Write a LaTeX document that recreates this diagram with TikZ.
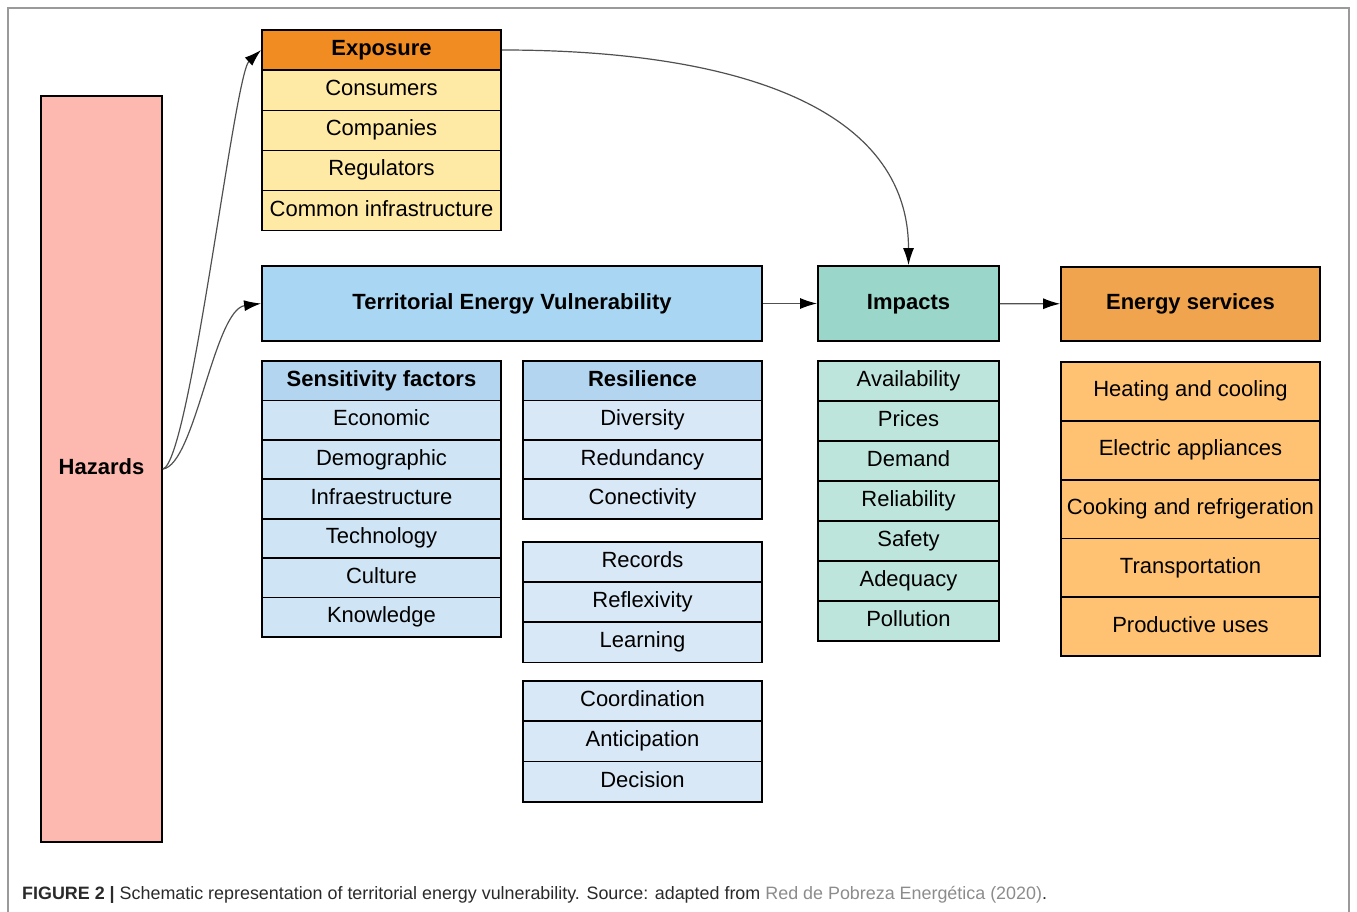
\documentclass[tikz,border=0pt]{standalone}
\usepackage{fontspec}
\setmainfont{Liberation Sans}
\usetikzlibrary{arrows.meta}
\definecolor{hazardfill}{HTML}{FDB8B0}
\definecolor{expohead}{HTML}{F08C22}
\definecolor{exporow}{HTML}{FFEAA5}
\definecolor{tevfill}{HTML}{A9D7F3}
\definecolor{senshead}{HTML}{B3D5EF}
\definecolor{sensrow}{HTML}{CFE4F4}
\definecolor{resrow}{HTML}{D9E8F6}
\definecolor{impfill}{HTML}{9AD6CA}
\definecolor{improw}{HTML}{BDE5DC}
\definecolor{servhead}{HTML}{F0A44D}
\definecolor{servrow}{HTML}{FEC272}
\definecolor{linkgray}{HTML}{505050}
\definecolor{framegray}{HTML}{9A9A9A}
\definecolor{refgray}{HTML}{8C8C8C}
\definecolor{captext}{HTML}{2A2A2A}

\begin{document}
\begin{tikzpicture}[x=1pt,y=-1pt,
		box/.style={draw, line width=1.8pt, inner sep=0pt, text height=16pt, text depth=5pt,
			font=\fontsize{22}{26}\selectfont},
		head/.style={box, font=\fontsize{22}{26}\selectfont\bfseries},
		expocell/.style={minimum width=239pt, minimum height=40pt},
		senscell/.style={minimum width=239pt, minimum height=39.4pt},
		rescell/.style={minimum width=239pt, minimum height=40.2pt},
		impcell/.style={minimum width=181pt, minimum height=40pt},
		servcell/.style={minimum width=259pt, minimum height=58.8pt},
		link/.style={draw=linkgray, line width=1.2pt, -{Latex[length=17pt,width=11pt,color=black]}}]
		\useasboundingbox (0,0) rectangle (1357,912);
		\draw[framegray, line width=1.2pt] (8,912) -- (8,8) -- (1349,8) -- (1349,912);

		\node[head, fill=hazardfill, minimum width=121pt, minimum height=746pt] at (101.5,469)(hazards){Hazards};

		\node[head, expocell, fill=expohead] at (381.5,50)(expo){Exposure};
		\node[box, expocell, fill=exporow] at (381.5,90.5)(consumers){Consumers};
		\node[box, expocell, fill=exporow] at (381.5,130.5)(companies){Companies};
		\node[box, expocell, fill=exporow] at (381.5,170.5)(regulators){Regulators};
		\node[box, expocell, fill=exporow] at (381.5,210.5)(common){Common infrastructure};

		\node[head, fill=tevfill, minimum width=500pt, minimum height=75pt] at (512,303.5)(tev){Territorial Energy Vulnerability};
		\node[head, fill=impfill, minimum width=181pt, minimum height=75pt] at (908.5,303.5)(impacts){Impacts};
		\node[head, fill=servhead, minimum width=259pt, minimum height=74pt] at (1190.5,304)(services){Energy services};

		\node[head, senscell, fill=senshead] at (381.5,380.7)(sens){Sensitivity factors};
		\node[box, senscell, fill=sensrow] at (381.5,420.1)(economic){Economic};
		\node[box, senscell, fill=sensrow] at (381.5,459.5)(demographic){Demographic};
		\node[box, senscell, fill=sensrow] at (381.5,498.9)(infra){Infraestructure};
		\node[box, senscell, fill=sensrow] at (381.5,538.3)(technology){Technology};
		\node[box, senscell, fill=sensrow] at (381.5,577.7)(culture){Culture};
		\node[box, senscell, fill=sensrow] at (381.5,617.1)(knowledge){Knowledge};

		\node[head, senscell, fill=senshead] at (642.5,380.7)(res){Resilience};
		\node[box, senscell, fill=resrow] at (642.5,420.1)(diversity){Diversity};
		\node[box, senscell, fill=resrow] at (642.5,459.5)(redundancy){Redundancy};
		\node[box, senscell, fill=resrow] at (642.5,498.9)(conectivity){Conectivity};

		\node[box, rescell, fill=resrow] at (642.5,562)(records){Records};
		\node[box, rescell, fill=resrow] at (642.5,602.2)(reflexivity){Reflexivity};
		\node[box, rescell, fill=resrow] at (642.5,642.4)(learning){Learning};

		\node[box, rescell, fill=resrow] at (642.5,701.2)(coordination){Coordination};
		\node[box, rescell, fill=resrow] at (642.5,741.4)(anticipation){Anticipation};
		\node[box, rescell, fill=resrow] at (642.5,781.6)(decision){Decision};

		\node[box, impcell, fill=improw] at (908.5,381)(availability){Availability};
		\node[box, impcell, fill=improw] at (908.5,421)(prices){Prices};
		\node[box, impcell, fill=improw] at (908.5,461)(demand){Demand};
		\node[box, impcell, fill=improw] at (908.5,501)(reliability){Reliability};
		\node[box, impcell, fill=improw] at (908.5,541)(safety){Safety};
		\node[box, impcell, fill=improw] at (908.5,581)(adequacy){Adequacy};
		\node[box, impcell, fill=improw] at (908.5,621)(pollution){Pollution};

		\node[box, servcell, fill=servrow] at (1190.5,391.4)(heating){Heating and cooling};
		\node[box, servcell, fill=servrow] at (1190.5,450.2)(electric){Electric appliances};
		\node[box, servcell, fill=servrow] at (1190.5,509)(cooking){Cooking and refrigeration};
		\node[box, servcell, fill=servrow] at (1190.5,567.8)(transport){Transportation};
		\node[box, servcell, fill=servrow] at (1190.5,626.6)(productive){Productive uses};

		\draw[link] (hazards.east) .. controls +(27,-7) and +(-27,25) .. (expo.west);
		\draw[link] (hazards.east) .. controls +(32,-4) and +(-47,6) .. (tev.west);
		\draw[link] (expo.east) .. controls +(238,0) and +(0,-156) .. (impacts.north);
		\path[link] (tev) edge (impacts) (impacts) edge (services);

		\node[anchor=base west, inner sep=0pt, text=captext, font=\fontsize{17.9}{20}\selectfont] at (22,899)(caption)
			{\textbf{FIGURE 2 |} Schematic representation of territorial energy vulnerability. Source: adapted from \textcolor{refgray}{Red de Pobreza Energética (2020)}.};
	\end{tikzpicture}
\end{document}
